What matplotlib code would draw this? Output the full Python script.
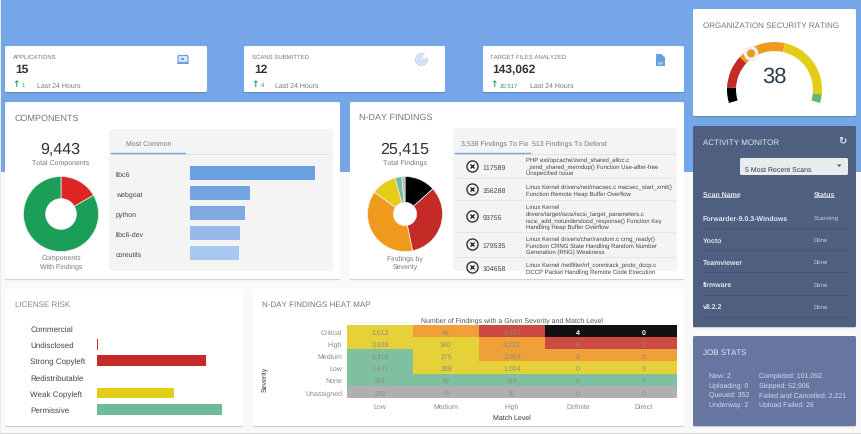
# dashboard recreation, everything placed in image pixels
import numpy as np
import matplotlib.pyplot as plt
from matplotlib.colors import ListedColormap
from matplotlib.patches import FancyBboxPatch, Rectangle, Circle, Wedge, Polygon

plt.rcParams['font.family'] = ['Liberation Sans', 'DejaVu Sans']
plt.rcParams['text.hinting'] = 'no_hinting'
plt.rcParams['text.hinting_factor'] = 1

W, H = 862, 435

# stat tiles
stat_titles = ['APPLICATIONS', 'SCANS SUBMITTED', 'TARGET FILES ANALYZED']
stat_values = ['15', '12', '143,062']
stat_deltas = ['1', '4', '20,517']

# components
total_components = '9,443'
components_donut = [1575, 7868]
common_names = ['libc6', 'webgoat', 'python', 'libc6-dev', 'coreutils']
common_counts = [100, 48.5, 44, 40, 39]

# heat map
match_levels = ['Low', 'Medium', 'High', 'Definite', 'Direct']
severities = ['Critical', 'High', 'Medium', 'Low', 'None', 'Unassigned']
findings = [[1612, 49, 1717, 4, 0],
            [3928, 340, 4233, 6, 0],
            [5416, 275, 3969, 2, 3],
            [1477, 288, 1004, 0, 3],
            [343, 59, 349, 0, 0],
            [292, 11, 35, 0, 0]]
# 0 grey, 1 green, 2 yellow, 3 orange, 4 red, 5 black
risk_class = [[2, 3, 4, 5, 5],
              [2, 2, 3, 4, 4],
              [1, 2, 3, 3, 3],
              [1, 2, 2, 2, 2],
              [1, 1, 1, 1, 1],
              [0, 0, 0, 0, 0]]

# n-day list
total_findings = '25,415'
finding_ids = ['117589', '156288', '93755', '179535', '104658']
finding_text = [['PHP ext/opcache/zend_shared_alloc.c', '_zend_shared_memdup() Function Use-after-free', 'Unspecified Issue'],
                ['Linux Kernel drivers/net/macsec.c macsec_start_xmit()', 'Function Remote Heap Buffer Overflow'],
                ['Linux Kernel', 'drivers/target/iscsi/iscsi_target_parameters.c', 'iscsi_add_notunderstood_response() Function Key', 'Handling Heap Buffer Overflow'],
                ['Linux Kernel drivers/char/random.c crng_ready()', 'Function CRNG State Handling Random Number', 'Generation (RNG) Weakness'],
                ['Linux Kernel /netfilter/nf_conntrack_proto_dccp.c', 'DCCP Packet Handling Remote Code Execution']]

# license risk
license_names = ['Commercial', 'Undisclosed', 'Strong Copyleft', 'Redistributable', 'Weak Copyleft', 'Permissive']
license_values = [0, 1, 87, 0, 62, 100]

# gauge
rating = 38
gauge_bands = [9, 19, 28, 39, 5]

# activity monitor and job stats
scan_names = ['Forwarder-9.0.3-Windows', 'Yocto', 'Teamviewer', 'firmware', 'v8.2.2']
scan_status = ['Scanning', 'Done', 'Done', 'Done', 'Done']
jobs_left = ['New: 2', 'Uploading: 0', 'Queued: 352', 'Underway: 2']
jobs_right = ['Completed: 101,092', 'Skipped: 52,906', 'Failed and Cancelled: 2,221', 'Upload Failed: 26']

BLUE = '#75A7E8'
GREY_TXT = '#777777'
SEV_COLORS = ['#000000', '#C42B27', '#EF9A1D', '#E3CD17', '#6FBF97', '#B3B3B3']


def pix_axes(x0, y0, x1, y1):
    a = fig.add_axes([x0 / W, 1 - y1 / H, (x1 - x0) / W, (y1 - y0) / H])
    a.set_zorder(5)
    a.patch.set_alpha(0)
    return a


def card(x0, y0, x1, y1, color='white', r=1.5):
    ax.add_patch(FancyBboxPatch((x0, y0 + 1.2), x1 - x0, y1 - y0, boxstyle=f'round,pad=0,rounding_size={r}',
                                fc='#000000', ec='none', alpha=0.16))
    ax.add_patch(FancyBboxPatch((x0, y0), x1 - x0, y1 - y0, boxstyle=f'round,pad=0,rounding_size={r}',
                                fc=color, ec='none'))


def label(x, y, s, size=5, color=GREY_TXT, ha='left', **kw):
    return ax.text(x, y, s, fontsize=size, color=color, ha=ha, va='center_baseline', **kw)


fig = plt.figure(figsize=(W / 100, H / 100), dpi=100, facecolor='#F9F9F9')
ax = fig.add_axes([0, 0, 1, 1])
ax.set_xlim(0, W)
ax.set_ylim(H, 0)
ax.axis('off')

# page background
ax.add_patch(Rectangle((0, 0), W, 172.5, fc=BLUE, ec='none'))
ax.add_patch(Rectangle((0, 0), W, 1, fc='#D8D4CC', ec='none'))
ax.add_patch(Rectangle((0, 0), 1, H, fc='#EDEDED', ec='none'))
ax.add_patch(Rectangle((0, 433.5), W, 1.5, fc='#D5D5D5', ec='none'))

# stat tiles
tile_x = [(5, 207), (244, 445), (483, 684)]
title_off = [8, 8, 7]
last_off = [32, 31, 47]
for i in range(3):
    x0, x1 = tile_x[i]
    card(x0, 47, x1, 93)
    label(x0 + title_off[i], 57, stat_titles[i], 4.3)
    label(x0 + title_off[i] + 2, 69, stat_values[i], 8.6, '#333333', weight='bold')
    label(x0 + 11, 83.5, '\u2191', 6.5, '#22A45D', ha='center', family='DejaVu Sans', weight='bold')
    label(x0 + 16.5, 85, stat_deltas[i], 4.5, '#22A45D')
    label(x0 + last_off[i], 85, 'Last 24 Hours', 4.7)

# tile icons
ic = '#6A9FE0'
ax.add_patch(FancyBboxPatch((178, 56.5), 10, 7, boxstyle='round,pad=0,rounding_size=0.8', fc='#DCE8F8', ec=ic, lw=0.9))
ax.add_patch(Rectangle((177, 64.2), 12, 1.1, fc=ic, ec='none'))
ax.add_patch(Rectangle((181.5, 59), 3, 2, fc=ic, ec='none'))
for r in [6.3, 4.2, 2.2]:
    ax.add_patch(Wedge((421.5, 60.5), r, -20, 300, width=1.0, fc='#A5C4EE', ec='none'))
ax.add_patch(Polygon([(656, 55), (661.5, 55), (665, 58.5), (665, 67), (656, 67)], fc=ic, ec='none'))
label(660.5, 62, '<>', 3.6, 'white', ha='center', weight='bold')

# panels
card(5, 103, 340, 280)
card(350, 103, 684, 280)
card(5, 290, 243, 427)
card(253, 290, 684, 427)
card(693, 10, 856, 117)
card(693, 127, 856, 328, '#4F5F80')
card(693, 337, 856, 427, '#6676A1')

# components panel
label(15, 118, 'COMPONENTS', 6.2)
label(60.5, 148, total_components, 11.5, '#333333', ha='center')
label(61, 162, 'Total Components', 5, ha='center')
label(61, 258, 'Components', 5, ha='center')
label(61, 266, 'With Findings', 5, ha='center')
card_inner = FancyBboxPatch((109, 130), 224, 142, boxstyle='round,pad=0,rounding_size=4', fc='#F4F4F4', ec='none')
ax.add_patch(card_inner)
ax.plot([111, 330], [154.5, 154.5], color='#E2E2E2', lw=0.7)
ax.plot([111, 185.5], [153.8, 153.8], color=BLUE, lw=1)
label(126, 143, 'Most Common', 5)
for i, name in enumerate(common_names):
    label(116, 174 + 20.1 * i, name, 5, '#444444')

donut_ax = pix_axes(23.5, 177.5, 98.5, 252.5)
donut_ax.pie(components_donut, colors=['#DD2526', '#1B9E57'], startangle=90, counterclock=False, radius=1,
             wedgeprops=dict(width=0.59, edgecolor='#EEEEEE', linewidth=0.5))
donut_ax.set_xlim(-1, 1)
donut_ax.set_ylim(-1, 1)

bar_ax = pix_axes(190, 164, 314.5, 264.5)
bar_colors = ['#6A9FE0', '#73A4E1', '#7FA9E0', '#98BAEA', '#A9C8F0']
bar_ax.barh(common_names, common_counts, height=0.7, color=bar_colors)
bar_ax.set_xlim(0, 100)
bar_ax.set_ylim(4.5, -0.5)
bar_ax.axis('off')

# n-day panel
label(359, 117, 'N-DAY FINDINGS', 6.2)
label(405, 148, total_findings, 11.5, '#333333', ha='center')
label(405, 162, 'Total Findings', 5, ha='center')
label(405, 258, 'Findings by', 5, ha='center')
label(405, 266, 'Severity', 5, ha='center')

sev_totals = np.array(findings).sum(axis=1)
pie_ax = pix_axes(367.5, 177.5, 442.5, 252.5)
pie_ax.pie(sev_totals, colors=SEV_COLORS, startangle=90, counterclock=False, radius=1,
           wedgeprops=dict(width=0.69, edgecolor='#F2F2F2', linewidth=0.5))
pie_ax.set_xlim(-1, 1)
pie_ax.set_ylim(-1, 1)

list_panel = FancyBboxPatch((453, 129), 224, 143, boxstyle='round,pad=0,rounding_size=4', fc='#F4F4F4', ec='none')
ax.add_patch(list_panel)
ax.plot([455, 675], [154.5, 154.5], color='#E2E2E2', lw=0.7)
ax.plot([455, 530], [153.8, 153.8], color=BLUE, lw=1)
label(461, 143, '3,538 Findings To Fix', 5)
label(532, 143, '513 Findings To Defend', 5)

row_y = [167, 190, 217, 245, 268]
first_line = [159.5, 187, 207, 238.5, 265]
for y in [178.5, 200.5, 232.5, 257.5]:
    ax.plot([455, 675], [y, y], color='#E6E6E6', lw=0.7)
clip_box = Rectangle((453, 129), 224, 141.5, transform=ax.transData)
for i in range(5):
    ax.plot([472], [row_y[i] - 0.5], 'o', ms=8, mfc='none', mec='#333333', mew=1.0, clip_path=clip_box)
    ax.plot([472], [row_y[i] - 0.5], 'x', ms=3.2, mec='#333333', mew=1.0, clip_path=clip_box)
    label(482.5, row_y[i], finding_ids[i], 5, '#444444')
    for j, line in enumerate(finding_text[i]):
        t = label(526, first_line[i] + 6.6 * j, line, 4.3, '#444444')
        t.set_clip_path(clip_box)

# license risk
label(15, 304, 'LICENSE RISK', 6, '#888888')
for i, name in enumerate(license_names):
    label(30.5, 329 + 16.25 * i, name, 5.5, '#444444')
lic_ax = pix_axes(96.8, 320.9, 222, 418.4)
lic_ax.barh(license_names, license_values, height=0.66,
            color=['#C42B27', '#C42B27', '#C42B27', '#EF9A1D', '#E3CD17', '#6FBB97'])
lic_ax.set_xlim(0, 100)
lic_ax.set_ylim(5.5, -0.5)
lic_ax.axis('off')

# heat map
label(262, 304, 'N-DAY FINDINGS HEAT MAP', 6, '#777777')
heat_ax = pix_axes(347, 326.3, 677, 399)
heat_ax.imshow(risk_class, aspect='auto', cmap=ListedColormap(['#B0B0B0', '#7FC0A0', '#E6D138', '#F0A038', '#CC4A42', '#111111']),
               vmin=-0.5, vmax=5.5, interpolation='nearest')
for r in range(len(severities)):
    for c in range(len(match_levels)):
        col = 'white' if risk_class[r][c] == 5 else '#8E8E7C'
        heat_ax.text(c, r, f'{findings[r][c]:,}', ha='center', va='center_baseline', fontsize=4.8, color=col,
                     weight='bold' if col == 'white' else 'normal')
heat_ax.set_xticks(range(5))
heat_ax.set_xticklabels(match_levels, fontsize=5, color='#888888')
heat_ax.set_yticks(range(6))
heat_ax.set_yticklabels(severities, fontsize=5, color='#888888')
heat_ax.tick_params(length=0, pad=3.5)
for s in heat_ax.spines.values():
    s.set_visible(False)
label(512, 320, 'Number of Findings with a Given Severity and Match Level', 4.9, '#555555', ha='center')
label(512, 417, 'Match Level', 4.9, '#333333', ha='center')
label(264.5, 369, 'Severity', 4.9, '#333333', ha='center', rotation=90)

# gauge
label(703, 25, 'ORGANIZATION SECURITY RATING', 6)
gauge_ax = pix_axes(727, 43, 822, 138)
gauge_ax.pie(gauge_bands + [69], colors=['#000000', '#C42B27', '#EF9A1D', '#E3CD17', '#62B96F', 'none'],
             startangle=196.5, counterclock=False, radius=1, wedgeprops=dict(width=0.19))
gauge_ax.set_xlim(-1, 1)
gauge_ax.set_ylim(-1, 1)
needle = np.deg2rad(123)
gauge_ax.add_patch(Circle((0.905 * np.cos(needle), 0.905 * np.sin(needle)), 0.155, fc='#F0F0F0', ec='none', zorder=5))
gauge_ax.add_patch(Circle((0.905 * np.cos(needle), 0.905 * np.sin(needle)), 0.085, fc='#EF9A1D', ec='none', zorder=6))
label(774.5, 75, str(rating), 15.5, '#2D3E50', ha='center')

# activity monitor
light = '#E4E8F0'
label(703, 142, 'ACTIVITY MONITOR', 6, light)
label(842, 141, '\u21bb', 7, light, ha='center', family='DejaVu Sans', weight='bold')
ax.add_patch(FancyBboxPatch((740, 159), 108, 17, boxstyle='round,pad=0,rounding_size=1.5', fc='#E9ECEF', ec='none'))
label(745, 169, '5 Most Recent Scans', 4.9, '#333333')
ax.add_patch(Polygon([(837, 165.5), (841.5, 165.5), (839.2, 168)], fc='#555555', ec='none'))
label(703, 194, 'Scan Name', 5, light, weight='bold')
label(814, 194, 'Status', 5, light, weight='bold')
ax.plot([703, 738.5], [197.5, 197.5], color=light, lw=0.5)
ax.plot([814, 834], [197.5, 197.5], color=light, lw=0.5)
scan_y = [218, 240, 262, 284.5, 306.5]
for i in range(5):
    label(703, scan_y[i], scan_names[i], 4.7, light, weight='bold')
    label(814, scan_y[i], scan_status[i], 4.4, '#C9D0DE')
for y in [229, 251, 273, 296, 318]:
    ax.plot([703, 848], [y, y], color='#465574', lw=0.6)

# job stats
label(703, 352, 'JOB STATS', 6, light)
job_y = [375, 385, 394.5, 404.5]
for i in range(4):
    label(709, job_y[i], jobs_left[i], 5, '#D5DCEA')
    label(759.5, job_y[i], jobs_right[i], 5, '#D5DCEA')

fig.savefig('out.png', dpi=100, facecolor=fig.get_facecolor())
